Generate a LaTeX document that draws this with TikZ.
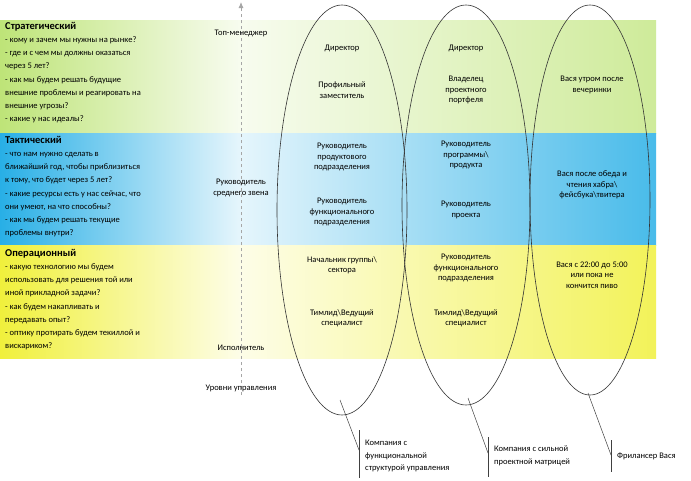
\documentclass[tikz,border=0pt]{standalone}
\usepackage{fontspec}
\setmainfont{Carlito}
\usetikzlibrary{arrows.meta}
\newcommand\ttlfont{\fontsize{10.5}{12}\selectfont\bfseries}
\begin{document}
\begin{tikzpicture}[x=1pt,y=-1pt,
  lbl/.style={align=center,font=\fontsize{8.5}{10.5}\selectfont,inner sep=0pt},
  side/.style={anchor=north west,align=left,font=\fontsize{8.5}{13.2}\selectfont,inner sep=0pt},
  ell/.style={draw=black!80,line width=0.6pt},
  call/.style={draw=black!75,line width=0.5pt},
  note/.style={anchor=west,align=left,font=\fontsize{8.5}{12.5}\selectfont,inner sep=0pt}]
\definecolor{cg}{RGB}{190,228,120}
\definecolor{cb}{RGB}{40,175,230}
\definecolor{cy}{RGB}{240,240,60}
\useasboundingbox (0,0) rectangle (691,480);
\fill[white] (0,0) rectangle (691,480);
% bands
\shade[left color=cg,right color=cg!12] (0,20) rectangle (240,133);
\shade[left color=cg!12,right color=cg!75] (240,20) rectangle (656,133);
\shade[left color=cb,right color=cb!12] (0,133) rectangle (240,245);
\shade[left color=cb!12,right color=cb!85] (240,133) rectangle (656,245);
\shade[left color=cy,right color=cy!12] (0,245) rectangle (240,358);
\shade[left color=cy!12,right color=cy!85] (240,245) rectangle (656,358);
% axis
\coordinate (ab) at (241,395);
\coordinate (at) at (241,2);
\draw[black!35,dashed,line width=0.8pt,-{Latex[length=6pt,width=5pt]}] (ab) -- (at);
\node[lbl] (axl) at (241,388) {Уровни управления};
\node[lbl] (top) at (241,33) {Топ-менеджер};
\node[lbl] (mid) at (241,188) {Руководитель\\среднего звена};
\node[lbl] (ex) at (241,348) {Исполнитель};
% left text
\node[side] (s) at (5,22) {{\ttlfont Стратегический}\\- кому и зачем мы нужны на рынке?\\- где и с чем мы должны оказаться\\через 5 лет?\\- как мы будем решать будущие\\внешние проблемы и реагировать на\\внешние угрозы?\\- какие у нас идеалы?};
\node[side] (t) at (5,136) {{\ttlfont Тактический}\\- что нам нужно сделать в\\ближайший год, чтобы приблизиться\\к тому, что будет через 5 лет?\\- какие ресурсы есть у нас сейчас, что\\они умеют, на что способны?\\- как мы будем решать текущие\\проблемы внутри?};
\node[side] (o) at (5,249) {{\ttlfont Операционный}\\- какую технологию мы будем\\использовать для решения той или\\иной прикладной задачи?\\- как будем накапливать и\\передавать опыт?\\- оптику протирать будем текиллой и\\вискариком?};
% ellipses
\draw[ell] (342,210) ellipse [x radius=65, y radius=205];
\draw[ell] (466,205) ellipse [x radius=64, y radius=200];
\draw[ell] (590,200) ellipse [x radius=60, y radius=195];
% column 1
\node[lbl] (a1) at (342,48) {Директор};
\node[lbl] (a2) at (342,90) {Профильный\\заместитель};
\node[lbl] (a3) at (342,157) {Руководитель\\продуктового\\подразделения};
\node[lbl] (a4) at (342,212) {Руководитель\\функционального\\подразделения};
\node[lbl] (a5) at (342,265) {Начальник группы\textbackslash\\сектора};
\node[lbl] (a6) at (342,318) {Тимлид\textbackslash Ведущий\\специалист};
% column 2
\node[lbl] (b1) at (466,48) {Директор};
\node[lbl] (b2) at (466,90) {Владелец\\проектного\\портфеля};
\node[lbl] (b3) at (466,155) {Руководитель\\программы\textbackslash\\продукта};
\node[lbl] (b4) at (466,210) {Руководитель\\проекта};
\node[lbl] (b5) at (466,268) {Руководитель\\функционального\\подразделения};
\node[lbl] (b6) at (466,318) {Тимлид\textbackslash Ведущий\\специалист};
% column 3
\node[lbl] (c1) at (592,85) {Вася утром после\\вечеринки};
\node[lbl] (c2) at (592,185) {Вася после обеда и\\чтения хабра\textbackslash\\фейсбука\textbackslash твитера};
\node[lbl] (c3) at (592,275) {Вася с 22:00 до 5:00\\или пока не\\кончится пиво};
% callouts
\coordinate (e1) at (340,400); \coordinate (k1) at (359,450);
\draw[call] (e1) -- (k1); \draw[call] (359,430) -- (359,478);
\node[note] (n1) at (365,456) {Компания с\\функциональной\\структурой управления};
\coordinate (e2) at (468,398); \coordinate (k2) at (488,453);
\draw[call] (e2) -- (k2); \draw[call] (488,437) -- (488,477);
\node[note] (n2) at (494,456) {Компания с сильной\\проектной матрицей};
\coordinate (e3) at (588,393); \coordinate (k3) at (611,455);
\draw[call] (e3) -- (k3); \draw[call] (611,440) -- (611,472);
\node[note] (n3) at (617,456) {Фрилансер Вася};
\end{tikzpicture}
\end{document}
